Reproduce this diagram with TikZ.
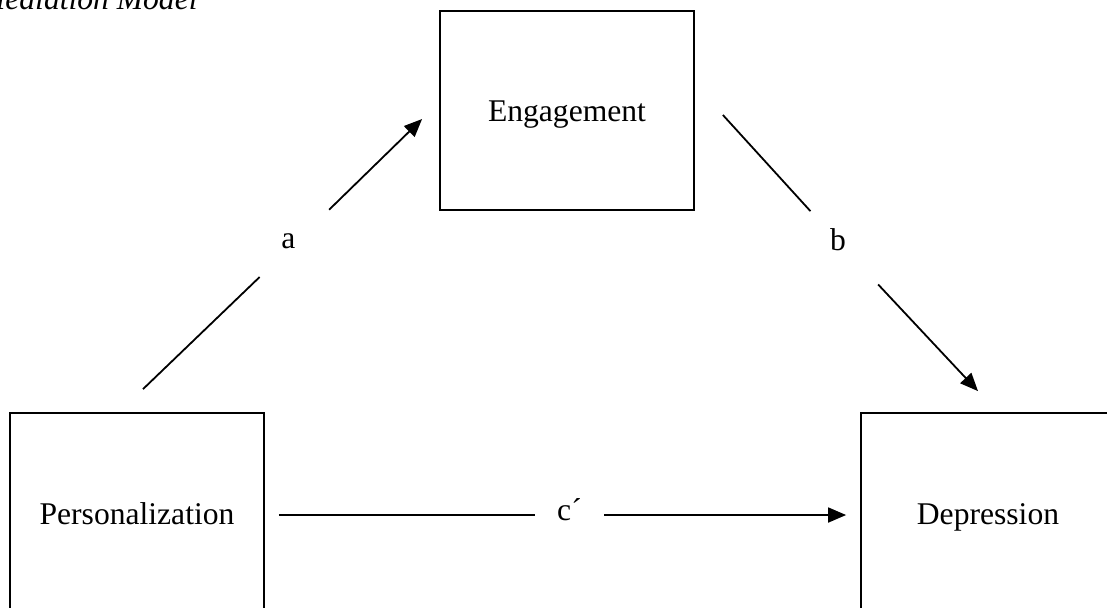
\documentclass[tikz,border=0pt]{standalone}
\usepackage{fontspec}
\setmainfont{Liberation Serif}
\usetikzlibrary{arrows.meta,calc}

\begin{document}
\begin{tikzpicture}[x=0.5pt,y=-0.5pt,
  box/.style={draw,line width=0.9pt,minimum width=127pt,minimum height=99.5pt,inner sep=0pt,
    text height=14pt,text depth=2pt},
  lab/.style={circle,inner sep=0pt},
  conn/.style={line width=0.9pt},
  arr/.style={conn,-{Triangle[length=9pt,width=7.5pt]}},
  font=\fontsize{15.8}{19}\selectfont]
\useasboundingbox (0,0) rectangle (1107,607);
\clip (0,0) rectangle (1107,607);
% title, cut at the left edge
\node[anchor=base west,font=\fontsize{15.8}{19}\selectfont\itshape] (title) at (-28,9) {Mediation Model};
% variables
\node[box,text height=13.5pt,text depth=2.5pt] (E) at (567,110.5) {Engagement};
\node[box] (P) at (137,512.5) {Personalization};
\node[box] (D) at (988,512.5) {Depression};
% path labels
\node[lab,minimum size=48pt,label={[xshift=-3pt,yshift=1pt]center:a}] (a) at (294.5,243.5) {};
\node[lab,minimum size=49.5pt,label={[xshift=-3pt,yshift=4pt]center:b}] (b) at (844,248) {};
\node[lab,minimum size=34.5pt,label={[yshift=2.5pt]center:c´}] (c) at (569.5,515) {};
% paths
\draw[conn] ($(P.north)+(6,-23)$) -- (a);
\draw[arr] (a) -- ($(E.west)+(-17,8.5)$);
\draw[conn] ($(E.east)+(28,4.5)$) -- (b);
\draw[arr] (b) -- ($(D.north)+(-10,-21)$);
\draw[conn] ($(P.east)+(14,2.5)$) -- (c);
\draw[arr] (c) -- ($(D.west)+(-14,2.5)$);
\end{tikzpicture}
\end{document}
